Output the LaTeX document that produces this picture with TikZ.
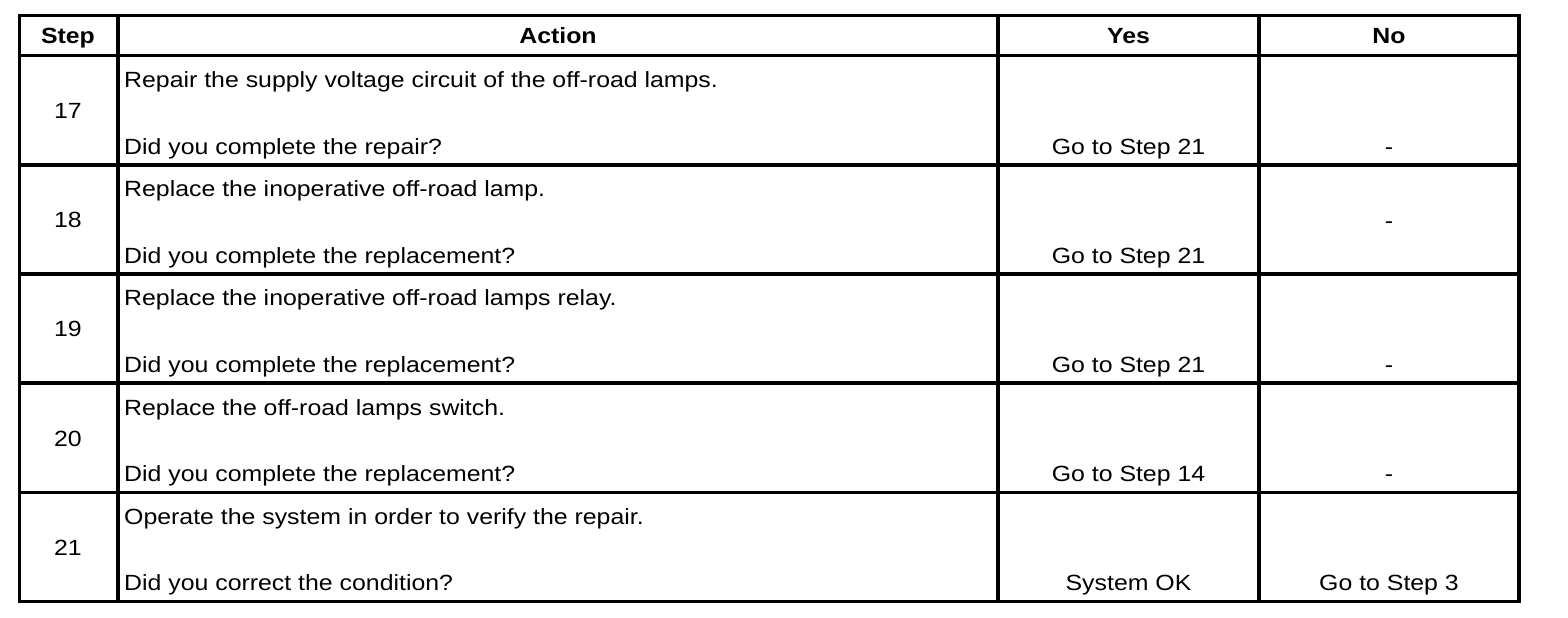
\documentclass[tikz,border=0pt]{standalone}
\usepackage{fontspec}
\setmainfont{Liberation Sans}[FakeStretch=1.13]

\begin{document}
\begin{tikzpicture}[x=1pt,y=-1pt,
    cell/.style={inner sep=0pt,anchor=base,font=\fontsize{22}{26}\selectfont},
    left cell/.style={cell,anchor=base west},
    head/.style={cell,font=\fontsize{22}{26}\selectfont\bfseries},
    rule/.style={line width=3.6pt}]
  \useasboundingbox (0,0) rectangle (1568,618);

  % header
  \node[head] (hstep) at (68,43.5) {Step};
  \node[head] (haction) at (558,43.5) {Action};
  \node[head] (hyes) at (1128.5,43.5) {Yes};
  \node[head] (hno) at (1389,43.5) {No};

  % steps: number / action / question / yes / no / baseline of no
  \foreach \n/\act/\ask/\yes/\no/\nob [count=\i from 0] in {
      17/Repair the supply voltage circuit of the off-road lamps./Did you complete the repair?/Go to Step 21/-/98.5,
      18/Replace the inoperative off-road lamp./Did you complete the replacement?/Go to Step 21/-/63.5,
      19/Replace the inoperative off-road lamps relay./Did you complete the replacement?/Go to Step 21/-/98.5,
      20/Replace the off-road lamps switch./Did you complete the replacement?/Go to Step 14/-/98.5,
      21/Operate the system in order to verify the repair./Did you correct the condition?/System OK/Go to Step 3/98.5}{
    \pgfmathsetmacro{\top}{55.5+109.2*\i}
    \node[cell] (step\n) at (68,\top+63) {\n};
    \node[left cell] (act\n) at (124,\top+32) {\act};
    \node[left cell] (ask\n) at (124,\top+98.5) {\ask};
    \node[cell] (yes\n) at (1128.5,\top+98.5) {\yes};
    \node[cell] (no\n) at (1389,\top+\nob) {\no};
  }

  % grid
  \draw[rule] (19.5,15.5) rectangle (1519,601.5);
  \foreach \x in {118,998,1259}
    \draw[rule] (\x,15.5) -- (\x,601.5);
  \foreach \y in {55.5,164.7,273.9,383.1,492.3}
    \draw[rule] (19.5,\y) -- (1519,\y);
\end{tikzpicture}
\end{document}
